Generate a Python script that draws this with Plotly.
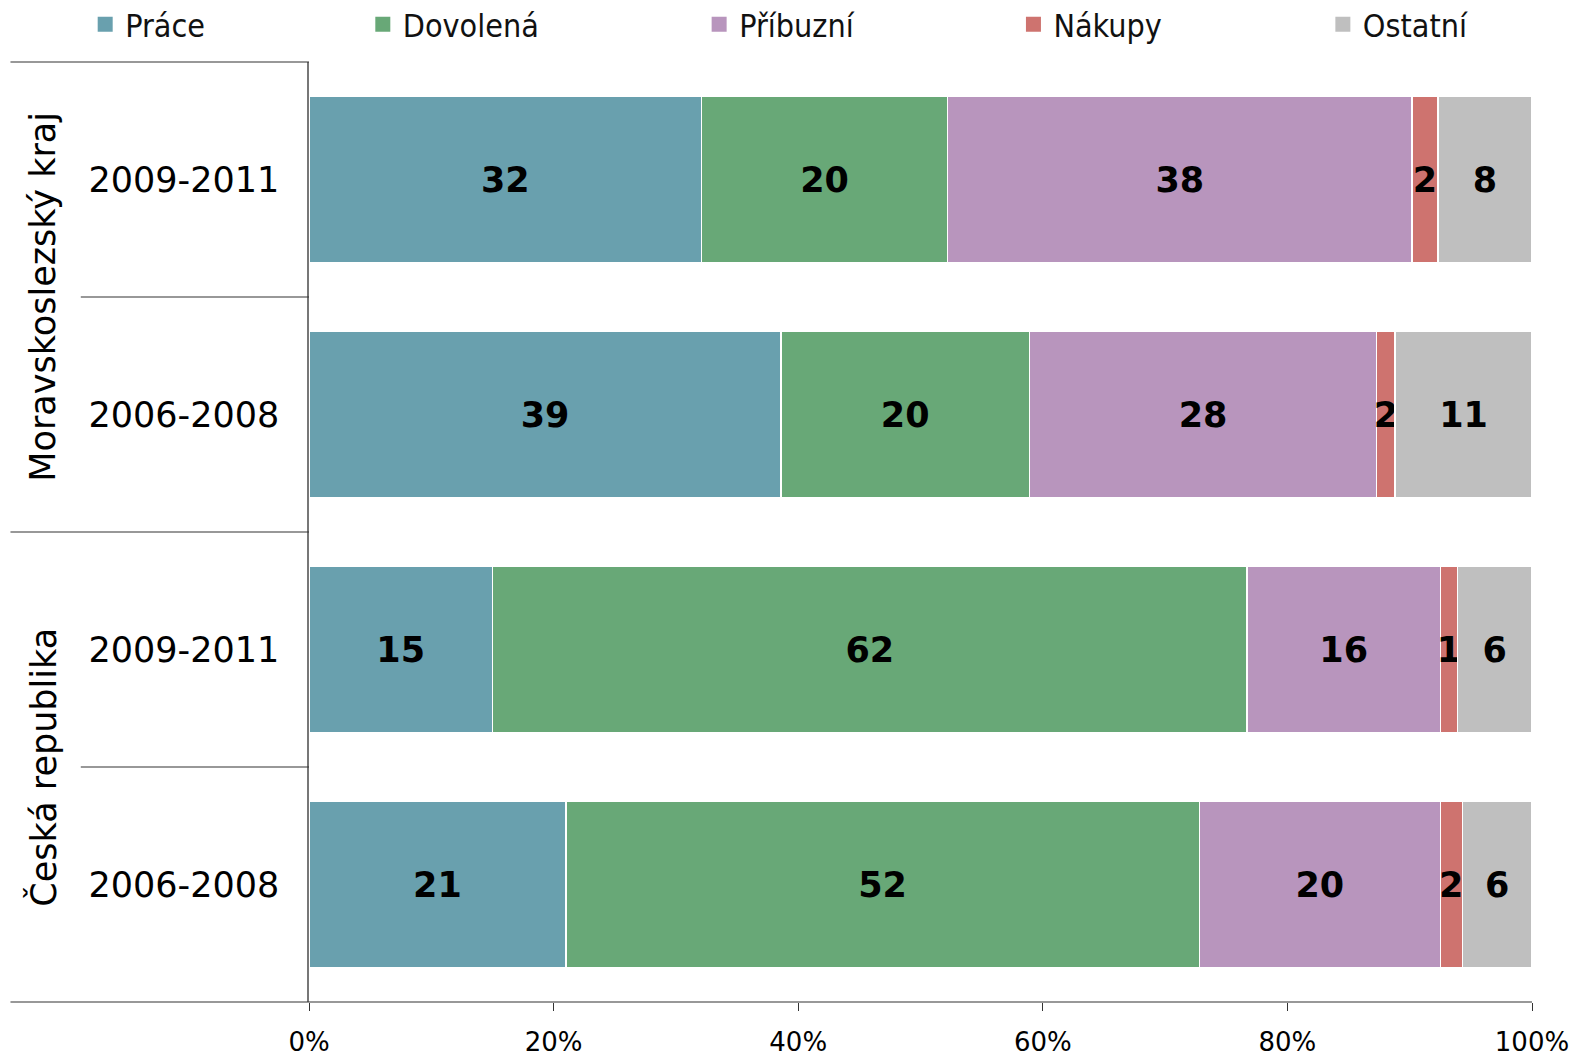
import plotly.graph_objects as go

# -----------------------------------------------------------------------------
# Data (percent shares)
# -----------------------------------------------------------------------------
groups = ["Moravskoslezský kraj", "Česká republika"]
periods = ["2009-2011", "2006-2008", "2009-2011", "2006-2008"]

prace = [32.1, 38.6, 15.0, 21.0]
dovolena = [20.1, 20.3, 61.7, 51.8]
pribuzni = [38.0, 28.4, 15.8, 19.7]
nakupy = [2.1, 1.5, 1.4, 1.8]
ostatni = [7.7, 11.2, 6.1, 5.7]

series_names = ["Práce", "Dovolená", "Příbuzní", "Nákupy", "Ostatní"]
series_colors = ["#69A0AE", "#68A877", "#B895BD", "#CE736F", "#BFBFBF"]
x_ticks = [0, 20, 40, 60, 80, 100]

# legend positions along the top (paper x)
legend_x = [-0.183, 0.044, 0.319, 0.576, 0.829]

FONT = "DejaVu Sans, Verdana, sans-serif"
LEGEND_FONT = "DejaVu Sans Condensed, Liberation Sans Narrow, DejaVu Sans, sans-serif"

fig = go.Figure()

rows = list(range(len(periods)))
all_series = [prace, dovolena, pribuzni, nakupy, ostatni]

for i, (name, vals, color) in enumerate(zip(series_names, all_series, series_colors)):
    legend_key = 'legend' if i == 0 else f'legend{i + 1}'
    fig.add_trace(go.Bar(
        x=vals, y=rows, orientation='h', name=name,
        marker=dict(color=color, line=dict(color='white', width=1.5)),
        texttemplate='%{x:.0f}', textposition='inside', insidetextanchor='middle',
        textangle=0, constraintext='none',
        textfont=dict(family=FONT, size=35, color='black', weight='bold'),
        showlegend=False, hoverinfo='skip'
    ))
    # legend-only entry with a bigger square swatch
    fig.add_trace(go.Scatter(
        x=[None], y=[None], mode='markers', name=name,
        marker=dict(symbol='square', size=15, color=color),
        legend=legend_key, showlegend=True
    ))

# one legend per series so each can sit where the original puts it
legend_common = dict(orientation='h', y=1.04, yanchor='middle', xanchor='left',
                     font=dict(family=LEGEND_FONT, size=32, color='#111'),
                     bgcolor='rgba(0,0,0,0)', borderwidth=0, itemwidth=30)
legends = {}
for i, lx in enumerate(legend_x):
    key = 'legend' if i == 0 else f'legend{i + 1}'
    legends[key] = dict(x=lx, **legend_common)

# group dividers / outer frame on the left
left_outer = -0.2441
left_inner = -0.1866
n = len(periods)
shapes = []
for k in range(n + 1):
    yp = 1 - k / n
    x0 = left_outer if k % 2 == 0 else left_inner
    x1 = 1 if k == n else 0
    shapes.append(dict(type='line', xref='paper', yref='paper', x0=x0, x1=x1, y0=yp, y1=yp,
                       line=dict(color='#333', width=1.2)))

# rotated group titles
annotations = []
for g, name in enumerate(groups):
    annotations.append(dict(
        text=name, xref='paper', yref='paper', x=-0.2178, y=1 - (2 * g + 1) / n,
        textangle=-90, showarrow=False, xanchor='center', yanchor='middle',
        font=dict(family=FONT, size=35, color='black')
    ))

fig.update_layout(
    width=1576, height=1056,
    margin=dict(l=309, r=44, t=62, b=54, autoexpand=False),
    barmode='stack', bargap=0.294,
    plot_bgcolor='white', paper_bgcolor='white',
    font=dict(family=FONT, color='black'),
    shapes=shapes, annotations=annotations,
    showlegend=True,
    **legends
)

fig.update_xaxes(
    range=[0, 100], tickvals=x_ticks, ticktext=[f"{v}%" for v in x_ticks],
    showgrid=False, zeroline=False, showline=False,
    ticks='outside', ticklen=8, tickcolor='#333', tickwidth=1.2,
    tickfont=dict(family=FONT, size=26, color='black'),
    ticklabelstandoff=9
)
fig.update_yaxes(
    range=[n - 0.5, -0.5], tickvals=rows, ticktext=periods,
    showgrid=False, zeroline=False, showline=True, linecolor='#777', linewidth=1.5,
    ticks='', tickfont=dict(family=FONT, size=35, color='black'),
    ticklabelstandoff=21
)

# drop the default 8px page margin so the figure fills the window exactly
fig.write_html("out.html", config={'displayModeBar': False},
               post_script="document.body.style.margin='0';")
